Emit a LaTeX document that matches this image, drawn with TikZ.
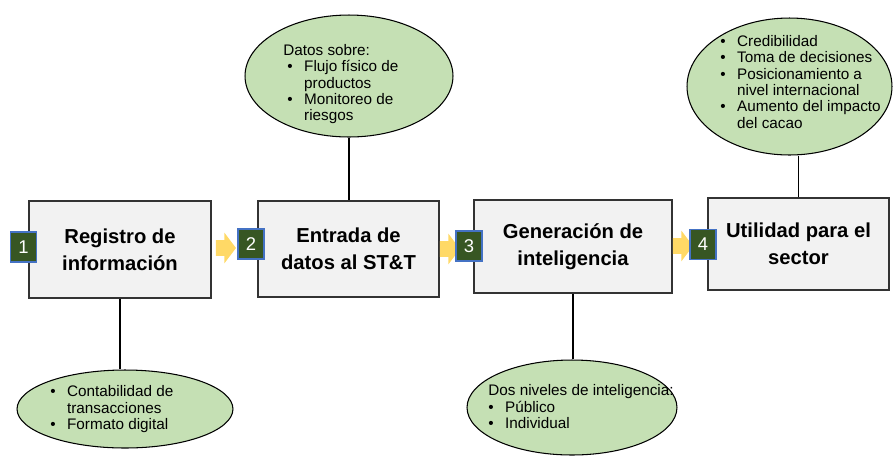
\documentclass[tikz,border=0pt]{standalone}
\usepackage{fontspec}
\setmainfont{Liberation Sans}
\usepackage{tikz}
\usetikzlibrary{shapes.geometric,shapes.arrows}

\definecolor{boxgray}{HTML}{F2F2F2}
\definecolor{bubblegreen}{HTML}{C5E0B4}
\definecolor{numgreen}{HTML}{375623}
\definecolor{numblue}{HTML}{4472C4}
\definecolor{arrowyellow}{HTML}{FFD966}

\begin{document}
\begin{tikzpicture}[
            x=0.02cm, y=-0.02cm,
            every node/.append style={black},
            stepbox/.style={draw=black!80, line width=0.8pt, fill=boxgray, align=center,
                inner sep=0pt, font=\fontsize{11.5}{15.3}\selectfont\bfseries},
            numbox/.style={draw=numblue, line width=0.6pt, fill=numgreen, text=white,
                minimum width=0.52cm, minimum height=0.6cm, inner sep=0pt,
                font=\fontsize{10.5}{12}\selectfont},
            flecha/.style={single arrow, fill=arrowyellow, draw=none,
                inner xsep=0pt, inner ysep=0.15cm, minimum height=0.4cm,
                single arrow head extend=0.15cm, single arrow tip angle=106},
            bubble/.style={ellipse, draw=black, line width=0.6pt, fill=bubblegreen, inner sep=0pt},
            bubbletext/.style={anchor=west, align=left, inner sep=0pt,
                font=\fontsize{8.7}{9.3}\selectfont},
            enlace/.style={draw=black, line width=0.9pt}
        ]
            \useasboundingbox (0,0) rectangle (893,458);

            % pasos
            \node[stepbox, minimum width=3.64cm, minimum height=1.94cm] (registro)   at (120,249.5) {Registro de\\información};
            \node[stepbox, minimum width=3.62cm, minimum height=1.92cm] (entrada)    at (348.5,249) {Entrada de\\datos al ST\&T};
            \node[stepbox, minimum width=3.96cm, minimum height=1.86cm] (generacion) at (573,246.5) {Generación de\\inteligencia};
            \node[stepbox, minimum width=3.62cm, minimum height=1.84cm] (utilidad)   at (798.5,244) {Utilidad para el\\sector};

            % flechas amarillas
            \node[flecha] (f1) at (223,248) {};
            \node[flecha] (f2) at (447,249) {};
            \node[flecha] (f3) at (680,246) {};

            % numeros
            \node[numbox] (n1) at (23.5,247) {1};
            \node[numbox] (n2) at (251,244) {2};
            \node[numbox] (n3) at (469,246) {3};
            \node[numbox] (n4) at (703,244.5) {4};

            % burbujas
            \node[bubble, minimum width=4.32cm, minimum height=1.56cm] (contab)     at (125,409) {};
            \node[bubble, minimum width=4.16cm, minimum height=2.44cm] (datos)      at (349,76) {};
            \node[bubble, minimum width=4.20cm, minimum height=1.90cm] (niveles)    at (572,407.5) {};
            \node[bubble, minimum width=4.10cm, minimum height=2.74cm] (beneficios) at (789.5,86.5) {};

            \node[bubbletext] (contabtxt) at (50,410) {%
                \begin{tabular}{@{}l@{\hspace{6.5pt}}l@{}}
                \textbullet & Contabilidad de\\ & transacciones\\
                \textbullet & Formato digital
                \end{tabular}};
            \node[bubbletext] (datostxt) at (283,85) {%
                \begin{tabular}{@{\hspace{2.3pt}}l@{\hspace{6.5pt}}l@{}}
                \multicolumn{2}{@{}l@{}}{Datos sobre:}\\
                \textbullet & Flujo físico de\\ & productos\\
                \textbullet & Monitoreo de\\ & riesgos
                \end{tabular}};
            \node[bubbletext] (nivelestxt) at (488,409) {%
                \begin{tabular}{@{}l@{\hspace{6.5pt}}l@{}}
                \multicolumn{2}{@{}l@{}}{Dos niveles de inteligencia:}\\
                \textbullet & Público\\
                \textbullet & Individual
                \end{tabular}};
            \node[bubbletext] (beneficiostxt) at (720,84) {%
                \begin{tabular}{@{}l@{\hspace{6.5pt}}l@{}}
                \textbullet & Credibilidad\\
                \textbullet & Toma de decisiones\\
                \textbullet & Posicionamiento a\\ & nivel internacional\\
                \textbullet & Aumento del impacto\\ & del cacao
                \end{tabular}};

            % lineas
            \draw[enlace] (registro.south) -- (registro.south |- contab.north);
            \draw[enlace] (datos.south) -- (datos.south |- entrada.north);
            \draw[enlace] (generacion.south) -- (generacion.south |- niveles.north);
            \draw[enlace] (utilidad.north) -- (utilidad.north |- beneficios.south);
        \end{tikzpicture}
\end{document}
